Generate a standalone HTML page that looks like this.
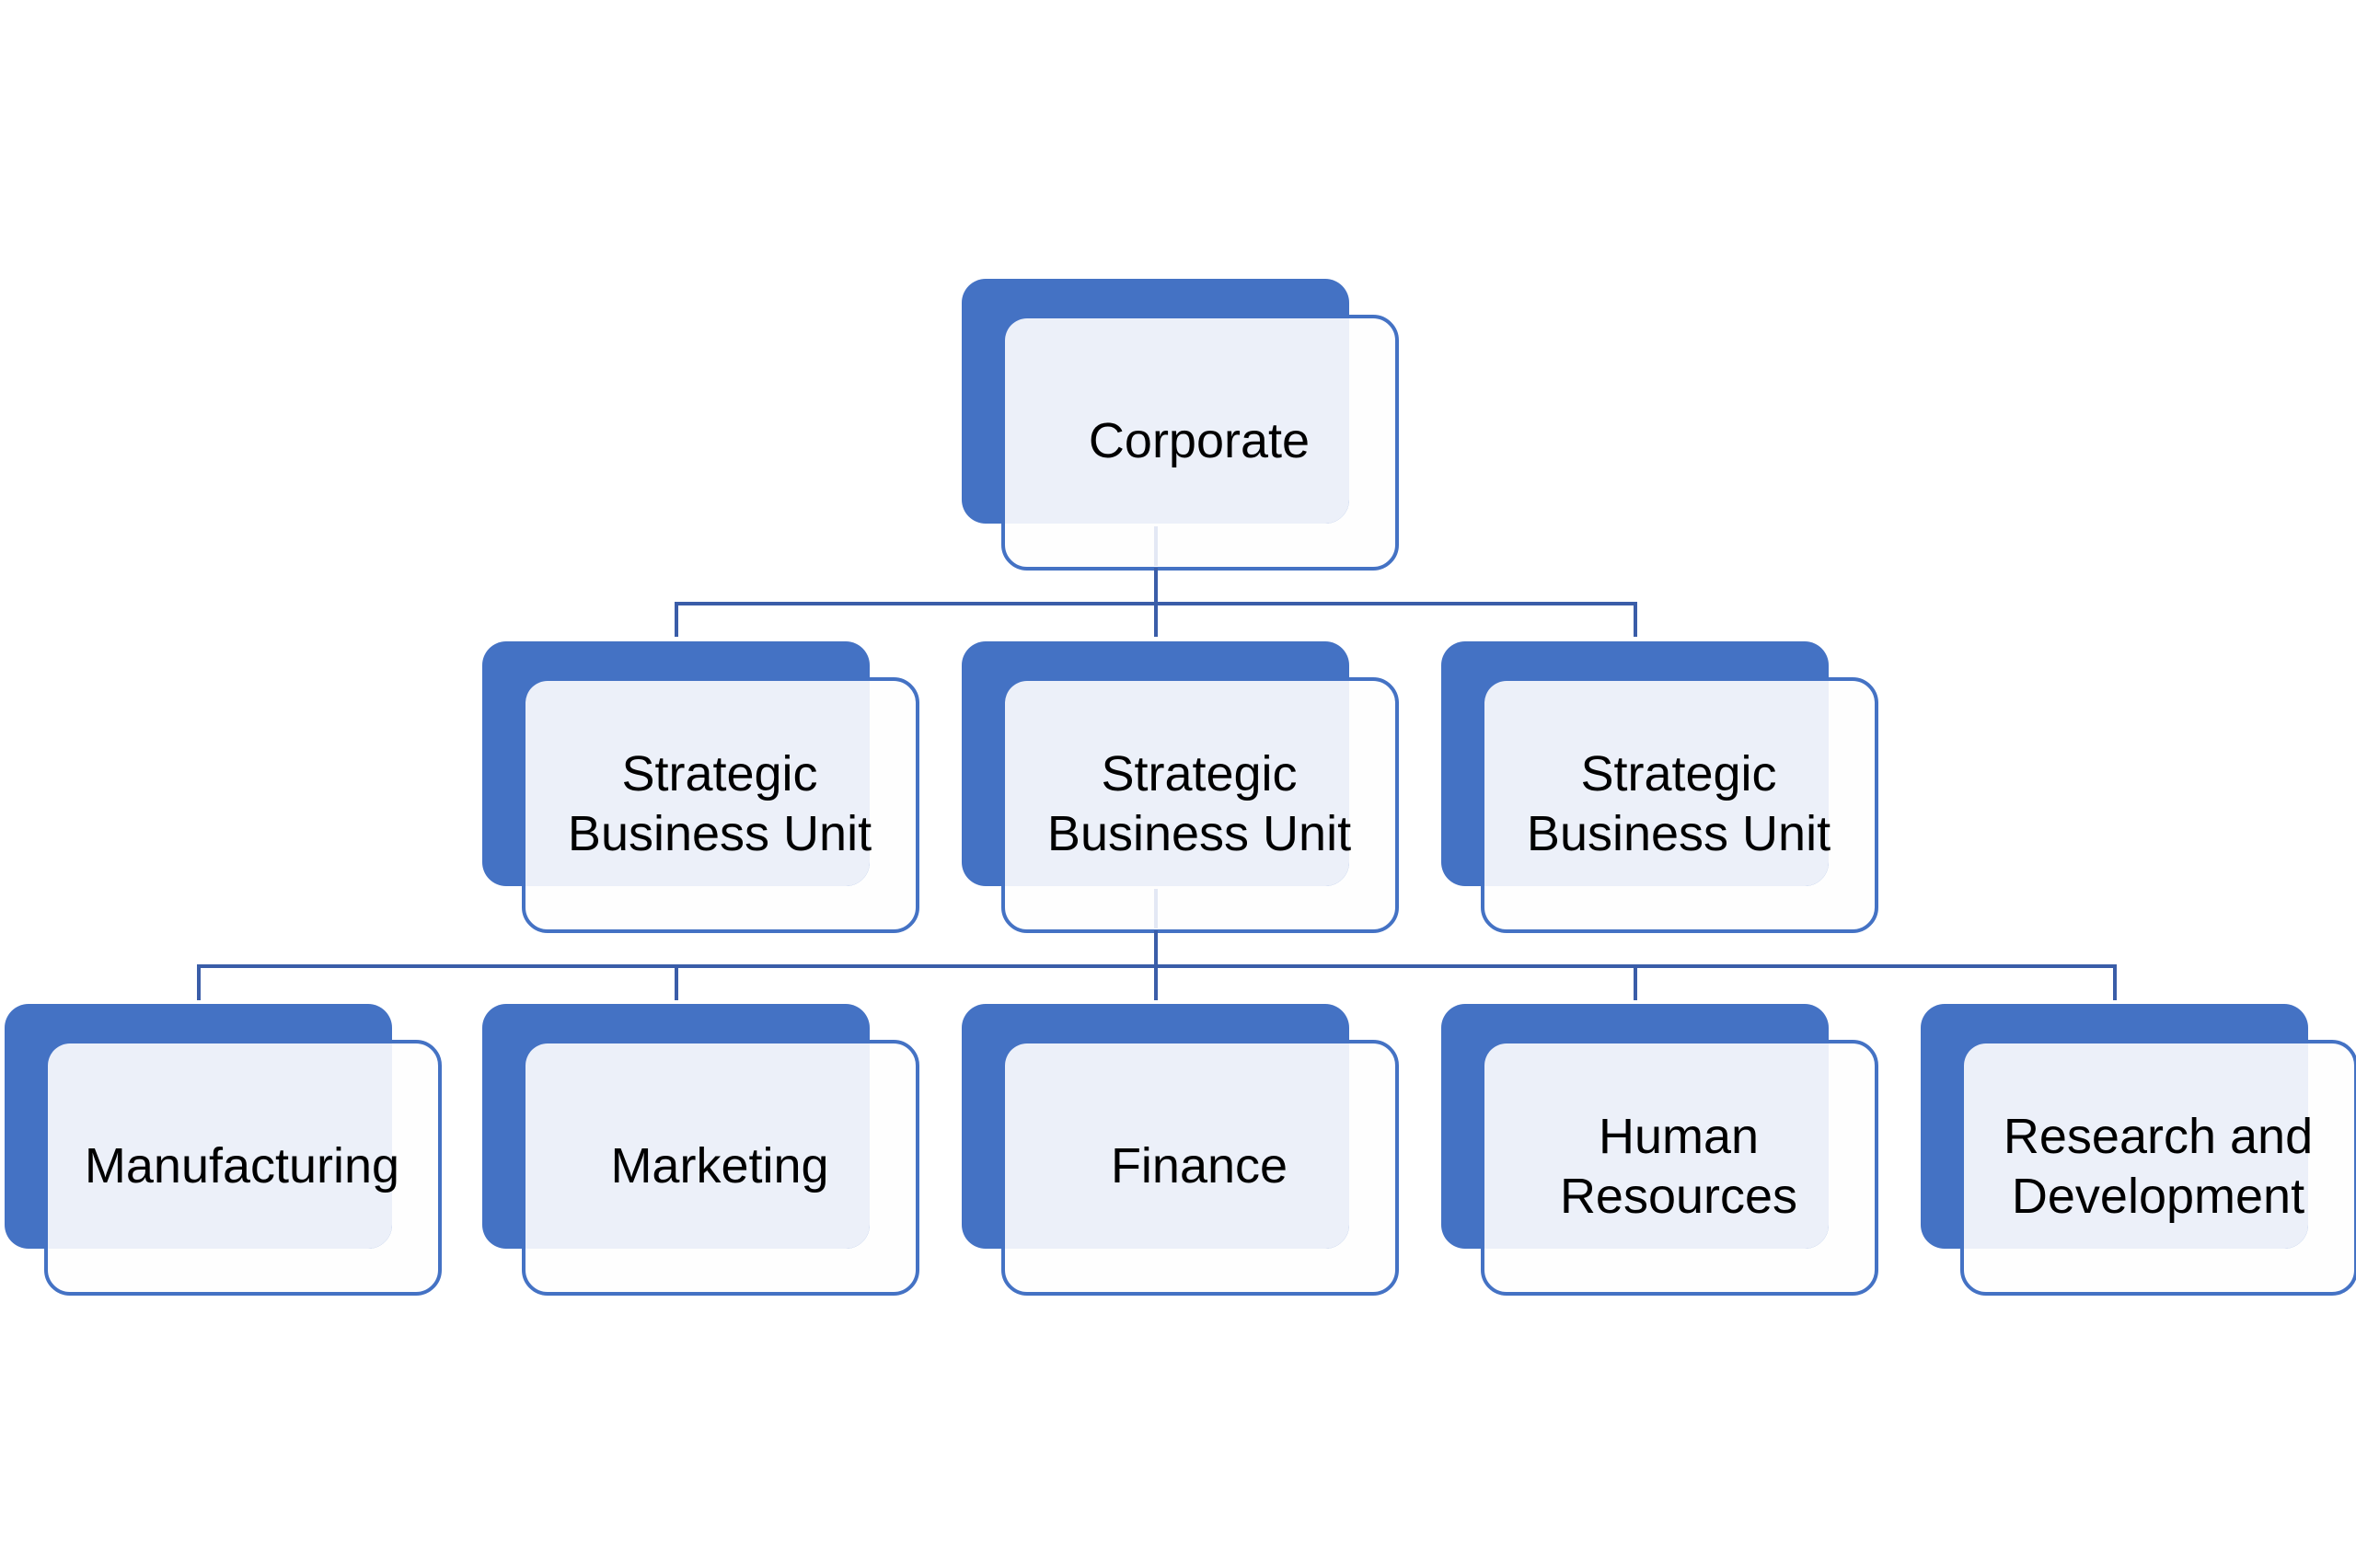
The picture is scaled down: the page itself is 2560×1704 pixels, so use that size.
<!DOCTYPE html>
<html><head><meta charset="utf-8"><style>
html,body{margin:0;padding:0;background:#fff;}
svg{display:block;}
text{font-family:"Liberation Sans",sans-serif;font-size:54px;fill:#000;text-anchor:middle;}
</style></head><body>
<svg width="2560" height="1704" viewBox="0 0 2560 1704" xmlns="http://www.w3.org/2000/svg">
<defs>
<clipPath id="bk"><rect x="0" y="0" width="421" height="266" rx="26"/></clipPath>
<g id="box">
  <rect x="45" y="41" width="428" height="274" rx="26" fill="#fefefe" stroke="#4472C4" stroke-width="4"/>
  <rect x="0" y="0" width="421" height="266" rx="26" fill="#4472C4"/>
  <rect x="47" y="43" width="424" height="270" rx="24" fill="#ECF0F9" clip-path="url(#bk)"/>
</g>
</defs>
<g stroke="#3A5DA8" stroke-width="4" fill="none">
  <path d="M1256 617 V692 M735 692 V656 H1777 V692"/>
  <path d="M1256 1011 V1087 M216 1087 V1050 H2298 V1087 M735 1050 V1087 M1777 1050 V1087"/>
</g>
<use href="#box" x="1045" y="303"/>
<use href="#box" x="524" y="697"/>
<use href="#box" x="1045" y="697"/>
<use href="#box" x="1566" y="697"/>
<use href="#box" x="5" y="1091"/>
<use href="#box" x="524" y="1091"/>
<use href="#box" x="1045" y="1091"/>
<use href="#box" x="1566" y="1091"/>
<use href="#box" x="2087" y="1091"/>
<g stroke="#E3E8F4" stroke-width="4">
  <line x1="1256" y1="572" x2="1256" y2="615"/>
  <line x1="1256" y1="966" x2="1256" y2="1009"/>
</g>
<g stroke="#3A5DA8" stroke-width="4"><line x1="1256" y1="617" x2="1256" y2="656"/><line x1="1256" y1="1011" x2="1256" y2="1050"/></g>
<text x="1303" y="497">Corporate</text>
<text x="782" y="859">Strategic</text>
<text x="782" y="924">Business Unit</text>
<text x="1303" y="859">Strategic</text>
<text x="1303" y="924">Business Unit</text>
<text x="1824" y="859">Strategic</text>
<text x="1824" y="924">Business Unit</text>
<text x="263" y="1285">Manufacturing</text>
<text x="782" y="1285">Marketing</text>
<text x="1303" y="1285">Finance</text>
<text x="1824" y="1253">Human</text>
<text x="1824" y="1318">Resources</text>
<text x="2345" y="1253">Research and</text>
<text x="2345" y="1318">Development</text>
</svg>
</body></html>
